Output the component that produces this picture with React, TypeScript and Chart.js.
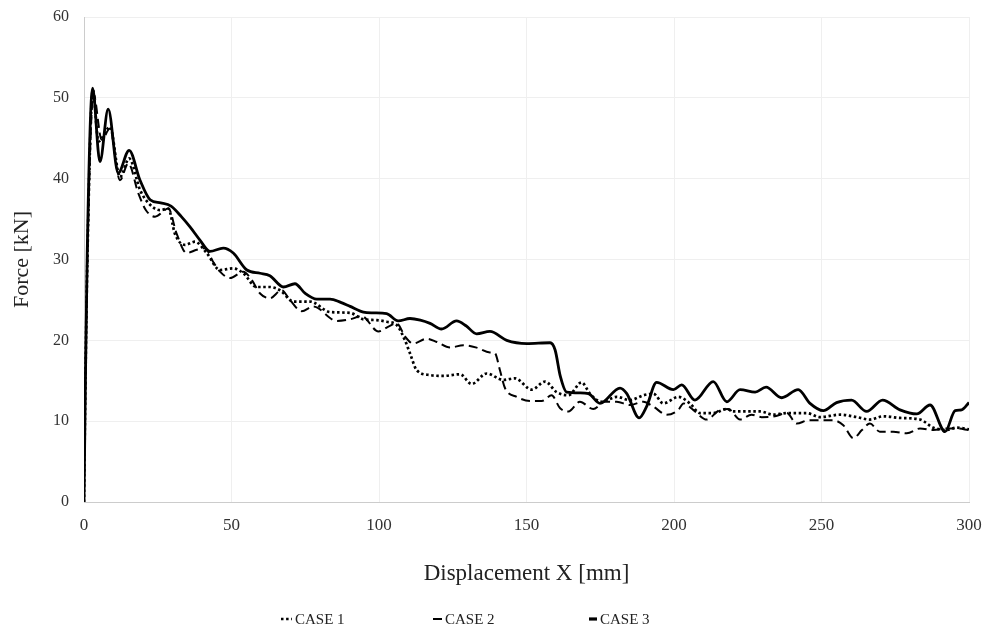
import { useEffect, useRef } from "react";
import { Chart, registerables } from "chart.js";

Chart.register(...registerables);

const xTicks = [0, 50, 100, 150, 200, 250, 300];
const yTicks = [0, 10, 20, 30, 40, 50, 60];
const seriesNames = ["CASE 1", "CASE 2", "CASE 3"];

// [displacement mm, force kN]
const case1: [number, number][] = [
  [0, 0], [0.4, 12.6], [1.2, 31], [3.0, 51.0], [4.9, 44.6], [8.8, 46.4], [12.2, 40.2], [15.3, 42.5],
  [19, 38.6], [21.8, 37.0], [25.8, 36.1], [28.6, 36.3], [30.8, 33.2], [34.2, 31.8], [37.6, 32.2],
  [41.6, 30.8], [46.1, 28.7], [50.6, 28.9], [54, 28.3], [58.5, 26.6], [63, 26.6], [66.4, 26.2],
  [71, 24.8], [76.6, 24.8], [83.4, 23.5], [90.2, 23.4], [94.7, 22.6], [99.2, 22.5], [102.6, 22.3],
  [106, 21.9], [108.8, 20.0], [110.5, 18.4], [112.8, 16.3], [117.3, 15.7], [121.8, 15.6], [127.5, 15.8],
  [131.4, 14.6], [136.5, 15.9], [142.1, 15.1], [146.1, 15.3], [151.8, 13.9], [156.3, 14.9], [160.2, 13.6],
  [164.2, 13.2], [168.7, 14.8], [171.5, 13.4], [175.5, 12.4], [180.6, 13.0], [185.1, 12.6], [189.6, 13.2],
  [193, 13.4], [196.4, 12.2], [201.5, 13.0], [205.4, 12.2], [208.8, 11.0], [213.3, 11.0], [217.9, 11.5],
  [220.1, 11.2], [229.2, 11.2], [233.7, 10.8], [238.2, 11.0], [245, 11.0], [249.5, 10.5], [256.3, 10.8],
  [262, 10.5], [266.4, 10.2], [270.9, 10.6], [276.6, 10.4], [283.4, 10.2], [287.9, 9.2], [292.4, 8.9],
  [295.8, 9.2], [300, 9.0],
];

const case2: [number, number][] = [
  [0, 0], [0.4, 12.6], [1.2, 31], [3.2, 50.5], [6, 44.8], [8.8, 46.2], [12.2, 39.8], [15, 41.9],
  [18.4, 38.2], [21, 36.1], [24.1, 35.3], [28.6, 36.3], [31.4, 33.2], [34.8, 30.8], [38.2, 31.2],
  [41, 31.4], [43.8, 29.7], [46.1, 28.5], [49.5, 27.7], [54, 28.5], [56.8, 27.5], [59.7, 25.8],
  [63, 25.2], [67, 26.2], [69.8, 25.0], [73.8, 23.6], [77.7, 24.2], [85.7, 22.4], [90.2, 22.6],
  [94.1, 23.0], [99.8, 21.1], [103.2, 21.7], [106, 22.1], [108.8, 20.5], [111.6, 19.6], [116.2, 20.2],
  [119.6, 19.8], [124.1, 19.1], [128.6, 19.4], [133.1, 19.1], [137.6, 18.5], [139.3, 18.4], [141, 16.3],
  [142.7, 14.1], [146.7, 13.0], [151.2, 12.5], [155.2, 12.5], [158.5, 13.2], [161.4, 11.6], [164.2, 11.2],
  [168.1, 12.4], [172.6, 11.5], [176.6, 12.4], [180.6, 12.4], [185.1, 12.0], [189.6, 12.4], [193, 11.8],
  [197.5, 10.8], [201.5, 11.4], [203.2, 12.2], [206.5, 11.4], [211.1, 10.2], [215.6, 11.4], [218.4, 11.5],
  [222.4, 10.2], [226.3, 10.8], [229.7, 10.5], [234.2, 10.6], [238.2, 11.0], [241.6, 9.7], [245.5, 10.1],
  [249.5, 10.1], [254, 10.1], [257.4, 9.5], [260.8, 7.9], [263.7, 8.9], [266.4, 9.7], [269.8, 8.7],
  [274.3, 8.7], [278.9, 8.5], [283.4, 9.1], [287.9, 8.9], [292.4, 9.1], [295.8, 9.1], [300, 8.9],
];

const case3: [number, number][] = [
  [0, 0], [0.4, 12.6], [1.1, 31], [2.9, 51.2], [5.4, 42.1], [8.2, 48.6], [11.6, 40.7], [15.3, 43.5],
  [19, 39.8], [22.4, 37.4], [26, 37.0], [29.5, 36.6], [33, 35.3], [36, 34.0], [39.3, 32.4], [42.7, 31.0],
  [47.2, 31.4], [50.6, 30.8], [55.2, 28.7], [59.7, 28.3], [63, 28.0], [67.6, 26.6], [71.5, 27.0],
  [75, 25.8], [78.9, 25.1], [83.4, 25.1], [87, 24.7], [90.2, 24.2], [94.7, 23.5], [98, 23.4],
  [102.6, 23.3], [106.5, 22.4], [110.5, 22.7], [114, 22.5], [117.3, 22.1], [121.2, 21.4], [126.3, 22.4],
  [129.5, 21.8], [133.1, 20.8], [137.6, 21.1], [143.3, 20.0], [150.1, 19.6], [158, 19.7], [159.7, 18.8],
  [161.5, 15.5], [163.6, 13.6], [168.1, 13.5], [171, 13.4], [174.9, 12.2], [181.7, 14.1], [184, 13.4],
  [188.2, 10.4], [190.7, 11.8], [194.1, 14.8], [199.8, 13.9], [202.6, 14.5], [207.1, 12.6], [213.3, 14.9],
  [217.9, 12.4], [222.4, 13.9], [227.5, 13.6], [231.2, 14.2], [236.5, 12.9], [242.1, 13.9], [246.1, 12.2],
  [250.6, 11.3], [255.1, 12.3], [260.2, 12.6], [265.3, 11.2], [270.7, 12.6], [276.6, 11.4], [282.3, 10.9],
  [286.8, 12.0], [291.9, 8.7], [295.3, 11.3], [297.5, 11.4], [300, 12.3],
];

const FONT = "'Liberation Serif', 'Times New Roman', serif";

const styles = [
  { width: 2.7, dash: [2.5, 2.6] },
  { width: 2, dash: [9, 5] },
  { width: 2.8, dash: [] as number[] },
];

const caseLegend = {
  id: "caseLegend",
  afterDraw(chart: any) {
    const ctx = chart.ctx as CanvasRenderingContext2D;
    const textXs = [295, 445, 600];
    const y = 619;
    ctx.save();
    chart.data.datasets.forEach((ds: any, i: number) => {
      const tx = textXs[i];
      const st = styles[i];
      ctx.beginPath();
      ctx.setLineDash(st.dash);
      ctx.lineWidth = i === 2 ? 3.2 : st.width;
      ctx.strokeStyle = "#000";
      ctx.lineCap = "butt";
      const len = i === 0 ? 11 : i === 1 ? 9 : 8;
      ctx.moveTo(tx - 3 - len, y);
      ctx.lineTo(tx - 3, y);
      ctx.stroke();
      ctx.setLineDash([]);
      ctx.fillStyle = "#222";
      ctx.font = `15px ${FONT}`;
      ctx.textBaseline = "middle";
      ctx.textAlign = "left";
      ctx.fillText(ds.label, tx, y + 1);
    });
    ctx.restore();
  },
};

export default function App() {
  const ref = useRef<HTMLCanvasElement | null>(null);

  useEffect(() => {
    if (!ref.current) return;
    const all = [case1, case2, case3];
    const chart = new Chart(ref.current, {
      type: "line",
      data: {
        datasets: all.map((s, i) => ({
          label: seriesNames[i],
          data: s.map(([x, y]) => ({ x, y })),
          borderColor: "#000",
          backgroundColor: "#000",
          borderWidth: styles[i].width,
          borderDash: styles[i].dash,
          borderCapStyle: "butt" as const,
          pointRadius: 0,
          fill: false,
          cubicInterpolationMode: "monotone" as const,
        })),
      },
      options: {
        animation: false,
        responsive: false,
        maintainAspectRatio: false,
        layout: { padding: { top: 17, right: 16, left: 0, bottom: 0 } },
        plugins: {
          legend: { display: false },
          tooltip: { enabled: false },
        },
        scales: {
          x: {
            type: "linear",
            min: 0,
            max: 300,
            afterBuildTicks: (s: any) => {
              s.ticks = xTicks.map((v) => ({ value: v }));
            },
            afterFit: (s: any) => {
              s.height = 126;
            },
            grid: {
              color: "#efefef",
              lineWidth: 1,
              drawTicks: true,
              tickLength: 13,
              tickColor: "rgba(0,0,0,0)",
            },
            border: { color: "#cccccc", width: 1 },
            ticks: {
              padding: 0,
              color: "#333",
              font: { family: FONT, size: 17 },
            },
            title: {
              display: true,
              text: "Displacement X [mm]",
              color: "#222",
              font: { family: FONT, size: 23 },
              padding: { top: 0, bottom: 40 },
            },
          },
          y: {
            type: "linear",
            min: 0,
            max: 60,
            afterBuildTicks: (s: any) => {
              s.ticks = yTicks.map((v) => ({ value: v }));
            },
            afterFit: (s: any) => {
              s.width = 84;
            },
            grid: {
              color: "#efefef",
              lineWidth: 1,
              drawTicks: true,
              tickLength: 15,
              tickColor: "rgba(0,0,0,0)",
            },
            border: { color: "#cccccc", width: 1 },
            ticks: {
              padding: 0,
              color: "#333",
              font: { family: FONT, size: 16 },
            },
            title: {
              display: true,
              text: "Force [kN]",
              color: "#222",
              font: { family: FONT, size: 22 },
              padding: { top: 9, bottom: 0 },
            },
          },
        },
      },
      plugins: [caseLegend],
    });
    return () => chart.destroy();
  }, []);

  return (
    <div style={{ position: "absolute", left: 0, top: 0, width: 985, height: 628, background: "#fff" }}>
      <canvas ref={ref} width={985} height={628} style={{ width: 985, height: 628, display: "block" }} />
    </div>
  );
}
